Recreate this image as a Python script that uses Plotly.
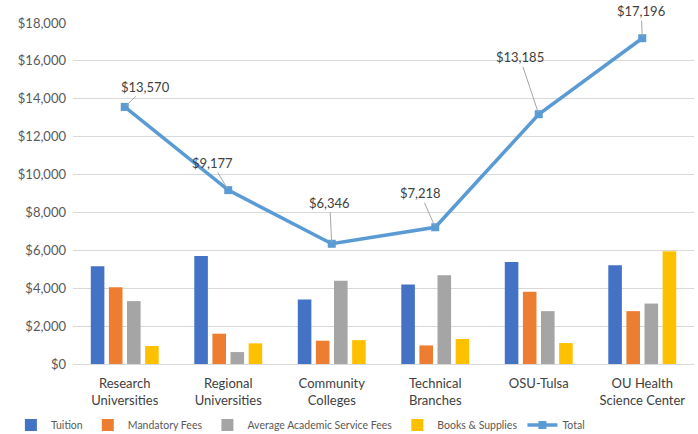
import plotly.graph_objects as go

categories = ["Research<br>Universities", "Regional<br>Universities", "Community<br>Colleges",
              "Technical<br>Branches", "OSU-Tulsa", "OU Health<br>Science Center"]
tuition = [5160, 5700, 3400, 4190, 5390, 5210]
mandatory_fees = [4050, 1600, 1230, 980, 3820, 2790]
academic_fees = [3320, 630, 4400, 4680, 2790, 3190]
books_supplies = [950, 1090, 1260, 1320, 1105, 5950]
total = [13570, 9177, 6346, 7218, 13185, 17196]

# label offsets (pixels) for the total data labels
label_dx = [21, -16, -2, -15, -19, -1]
label_dy = [-20, -27, -41, -34, -57, -27]

font = "Lato, Open Sans, sans-serif"
fig = go.Figure()
bar_specs = [("Tuition", tuition, "#4472C4"),
             ("Mandatory Fees", mandatory_fees, "#ED7D31"),
             ("Average Academic Service Fees", academic_fees, "#A5A5A5"),
             ("Books & Supplies", books_supplies, "#FFC000")]
for name, vals, col in bar_specs:
    fig.add_trace(go.Bar(x=categories, y=vals, name=name, marker_color=col,
                         marker_line_width=0))

fig.add_trace(go.Scatter(x=categories, y=total, name="Total", mode="lines+markers",
                         line=dict(color="#5B9BD5", width=3.5),
                         marker=dict(symbol="square", size=8, color="#5B9BD5"),
                         cliponaxis=False))

for c, v, dx, dy in zip(categories, total, label_dx, label_dy):
    fig.add_annotation(x=c, y=v, text=f"${v:,}", showarrow=True, arrowhead=0,
                       arrowwidth=1, arrowcolor="#A6A6A6", ax=dx, ay=dy,
                       standoff=2, font=dict(size=13, color="#404040", family=font))

fig.update_layout(
    width=698, height=434,
    margin=dict(l=73, r=4, t=23, b=70, autoexpand=False),
    paper_bgcolor="white", plot_bgcolor="white",
    barmode="group", bargap=0.3, bargroupgap=0.25,
    font=dict(family=font, size=13, color="#595959"),
    legend=dict(orientation="h", x=-0.1, xanchor="left", y=-0.179, yanchor="middle",
                font=dict(size=10.5, color="#595959", family=font), itemwidth=30,
                tracegroupgap=0, bgcolor="rgba(0,0,0,0)"),
    showlegend=True,
)
fig.update_yaxes(range=[0, 18000], dtick=2000, tickprefix="$", tickformat=",",
                 gridcolor="#D9D9D9", gridwidth=1, zeroline=False,
                 tickfont=dict(size=13, color="#595959"), ticks="", ticklabelstandoff=6)
fig.update_xaxes(showline=True, linecolor="#D9D9D9", linewidth=1,
                 tickfont=dict(size=13, color="#404040"), ticks="",
                 ticklabelstandoff=7)

fig.write_html("out.html")
